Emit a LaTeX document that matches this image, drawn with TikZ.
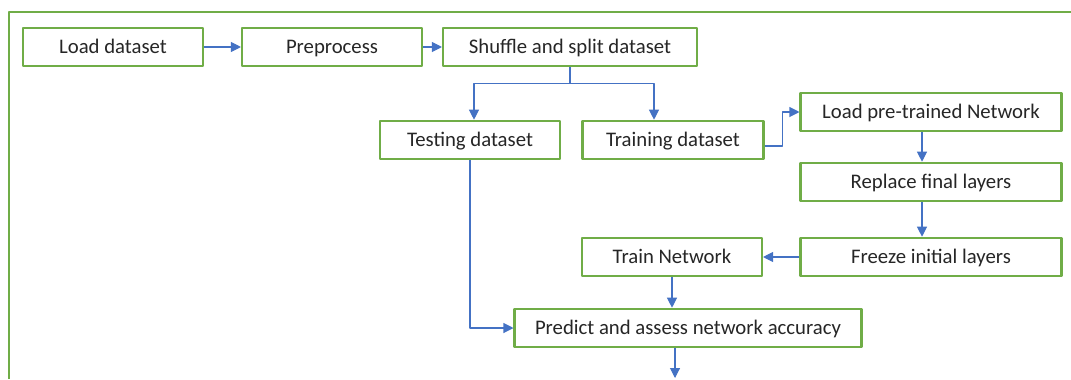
\documentclass[tikz,border=0pt]{standalone}
\usepackage{fontspec}
\setmainfont{Carlito}
\usetikzlibrary{arrows.meta}

\definecolor{boxgreen}{RGB}{112,173,71}
\definecolor{linkblue}{RGB}{68,114,196}

\begin{document}
\begin{tikzpicture}[x=0.02cm, y=-0.02cm, line join=round]

  % Colors and styles
  \tikzset{
    step-box/.style={draw=boxgreen, line width=1.2pt, fill=white, minimum height=0.77cm,
      inner sep=0pt, text height=0.9em, text depth=0.12em,
      text=black!85, font=\fontsize{11.8}{14}\selectfont},
    flow/.style={-{Triangle[length=0.2cm, width=0.2cm]}, linkblue, line width=0.6pt},
    link/.style={linkblue, line width=0.6pt},
  }

  \useasboundingbox (0,0) rectangle (1071,379);

  % Outer frame (runs past the page)
  \draw[boxgreen, line width=1.2pt] (9,379) -- (9,12) -- (1071,12);

  % Top row
  \node[step-box, minimum width=3.6cm] (load) at (113,47) {Load dataset};
  \node[step-box, minimum width=3.6cm] (prep) at (332,47) {Preprocess};
  \node[step-box, minimum width=5.08cm] (shuffle) at (570,47) {Shuffle and split dataset};

  % Split
  \node[step-box, minimum width=3.6cm] (testing) at (470,140) {Testing dataset};
  \node[step-box, minimum width=3.62cm] (training) at (673,140) {Training dataset};

  % Transfer learning column
  \node[step-box, minimum width=5.22cm] (pretrained) at (931,112) {Load pre-trained Network};
  \node[step-box, minimum width=5.22cm] (replace) at (931,182) {Replace final layers};
  \node[step-box, minimum width=5.22cm] (freeze) at (931,257) {Freeze initial layers};
  \node[step-box, minimum width=3.6cm] (train) at (672,257) {Train Network};
  \node[step-box, minimum width=6.94cm] (predict) at (688,328) {Predict and assess network accuracy};

  \coordinate (exit) at (675,378);

  % Connectors
  \draw[flow] (load) -- (prep);
  \draw[flow] (prep) -- (shuffle);

  \draw[link] (shuffle.south) -- ++(0,16) coordinate (split);
  \draw[flow] (split) -| ([xshift=0.08cm]testing.north);
  \draw[flow] (split) -| ([xshift=-0.38cm]training.north);

  \draw[flow] ([yshift=-0.12cm]training.east) -- ++(18,0) |- (pretrained.west);
  \draw[flow] ([xshift=-0.18cm]pretrained.south) -- ([xshift=-0.18cm]replace.north);
  \draw[flow] ([xshift=-0.18cm]replace.south) -- ([xshift=-0.18cm]freeze.north);
  \draw[flow] (freeze) -- (train);
  \draw[flow] (train.south) -- (train.south |- predict.north);
  \draw[flow] (testing.south) |- (predict.west);
  \draw[flow] (exit |- predict.south) -- (exit);

\end{tikzpicture}
\end{document}
